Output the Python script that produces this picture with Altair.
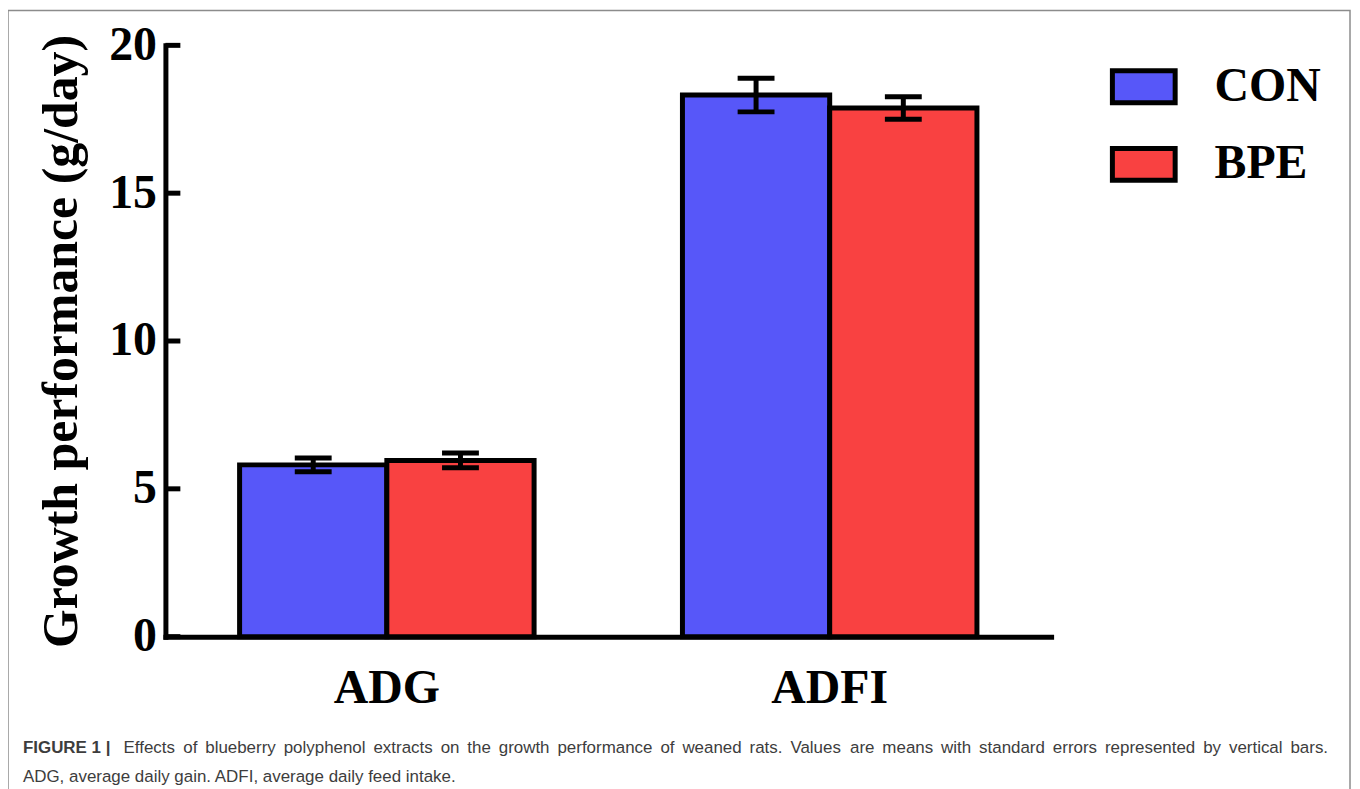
import altair as alt
import pandas as pd

# ---- data ----
groups = ["ADG", "ADG", "ADFI", "ADFI"]
treatments = ["CON", "BPE", "CON", "BPE"]
means = [5.81, 5.96, 18.32, 17.88]
sems = [0.23, 0.25, 0.57, 0.38]
group_order = ["ADG", "ADFI"]
treat_order = ["CON", "BPE"]
colors = ["#5757F9", "#F94141"]
y_ticks = [0, 5, 10, 15, 20]
y_title = "Growth performance (g/day)"
caption_bold = ["FIGURE 1 |"]
caption_line1 = "Effects of blueberry polyphenol extracts on the growth performance of weaned rats. Values are means with standard errors represented by vertical bars."
caption_line2 = ["ADG, average daily gain. ADFI, average daily feed intake."]

df = pd.DataFrame({"group": groups, "treat": treatments, "mean": means, "sem": sems})
df["lo"] = df["mean"] - df["sem"]
df["hi"] = df["mean"] + df["sem"]
ticks_df = pd.DataFrame({"v": y_ticks})

# ---- layout ----
W, H = 1347, 800
AX_X = 158
Y0, Y20 = 628.5, 35
X_END = 1047
serif = "Liberation Serif"
sans = "Liberation Sans"

xscale = alt.Scale(domain=group_order, range=[AX_X, X_END], paddingInner=0.335, paddingOuter=0.1675)
yscale = alt.Scale(domain=[0, 20], range=[Y0, Y20], nice=False, zero=True)

xaxis = alt.Axis(title=None, orient="bottom", offset=Y0 - H, domainColor="black", domainWidth=5,
                 domainCap="square", ticks=False, tickSize=0, labelFont=serif, labelFontWeight="bold",
                 labelFontSize=48, labelColor="black", labelPadding=28, labelAngle=0)
yaxis = alt.Axis(title=y_title, orient="left", offset=-AX_X, values=y_ticks, domainColor="black",
                 domainWidth=5, domainCap="square", ticks=False, tickSize=0, grid=False,
                 labelFont=serif, labelFontWeight="bold", labelFontSize=48, labelColor="black",
                 labelPadding=9, titleFont=serif, titleFontWeight="bold", titleFontSize=50,
                 titleColor="black", titlePadding=22)

X = alt.X("group:N", scale=xscale, sort=group_order, axis=xaxis)
XO = alt.XOffset("treat:N", sort=treat_order, scale=alt.Scale(domain=treat_order, paddingInner=0, paddingOuter=0))

legend = alt.Legend(title=None, orient="none", legendX=1106, legendY=42.5, padding=0,
                    symbolType="M-1,-0.508L1,-0.508L1,0.508L-1,0.508Z", symbolSize=3969,
                    symbolStrokeWidth=5, symbolStrokeColor="black", symbolOpacity=1,
                    labelFont=serif, labelFontWeight="bold", labelFontSize=48, labelColor="black",
                    labelOffset=37, rowPadding=17, labelLimit=400)

base = alt.Chart(df)

bars = base.mark_bar(stroke="black", strokeWidth=5, opacity=1).encode(
    x=X, xOffset=XO,
    y=alt.Y("mean:Q", scale=yscale, axis=yaxis),
    color=alt.Color("treat:N", scale=alt.Scale(domain=treat_order, range=colors), legend=legend),
)

stems = base.mark_rule(color="black", strokeWidth=5).encode(
    x=X, xOffset=XO,
    y=alt.Y("lo:Q", scale=yscale, axis=yaxis), y2="hi:Q",
)
cap_lo = base.mark_tick(color="black", size=37, thickness=5, opacity=1).encode(
    x=X, xOffset=XO, y=alt.Y("lo:Q", scale=yscale, axis=yaxis),
)
cap_hi = base.mark_tick(color="black", size=37, thickness=5, opacity=1).encode(
    x=X, xOffset=XO, y=alt.Y("hi:Q", scale=yscale, axis=yaxis),
)

yticks = alt.Chart(ticks_df).mark_rule(color="black", strokeWidth=5).encode(
    y=alt.Y("v:Q", scale=yscale, axis=yaxis),
    x=alt.value(AX_X), x2=alt.value(AX_X + 15),
)

# ---- caption (first line justified like the journal layout) ----
ARIAL = {"a": 556, "b": 556, "c": 500, "d": 556, "e": 556, "f": 278, "g": 556, "h": 556, "i": 222,
         "j": 222, "k": 500, "l": 222, "m": 833, "n": 556, "o": 556, "p": 556, "q": 556, "r": 333,
         "s": 500, "t": 278, "u": 556, "v": 500, "w": 722, "x": 500, "y": 500, "z": 500, ".": 278,
         ",": 278, " ": 278, "E": 667, "V": 667, "A": 667, "D": 722, "F": 611, "G": 778, "I": 278}
CAP_SIZE = 17


def text_w(s, size):
    return sum(ARIAL.get(ch, 556) for ch in s) * size / 1000.0


words = caption_line1.split(" ")
line_start, line_end = 116, 1325
natural = sum(text_w(w, CAP_SIZE) for w in words)
gap = (line_end - line_start - natural) / (len(words) - 1)
xs, cur = [], line_start
for w in words:
    xs.append(cur)
    cur += text_w(w, CAP_SIZE) + gap
words_df = pd.DataFrame({"w": words, "x": xs})

cap_color = "#3d3d3d"
cap_b = alt.Chart(pd.DataFrame({"t": caption_bold})).mark_text(
    font=sans, fontWeight="bold", fontSize=17, color=cap_color, align="left", baseline="alphabetic"
).encode(text="t:N", x=alt.value(15), y=alt.value(745.5))
cap_1 = alt.Chart(words_df).mark_text(
    font=sans, fontSize=CAP_SIZE, color=cap_color, align="left", baseline="alphabetic"
).encode(text="w:N", x=alt.X("x:Q", scale=None), y=alt.value(745.5))
cap_2 = alt.Chart(pd.DataFrame({"t": caption_line2})).mark_text(
    font=sans, fontSize=CAP_SIZE, color=cap_color, align="left", baseline="alphabetic"
).encode(text="t:N", x=alt.value(15), y=alt.value(774))

chart = alt.layer(bars, stems, cap_lo, cap_hi, yticks, cap_b, cap_1, cap_2).properties(
    width=W, height=H,
    autosize=alt.AutoSizeParams(type="none"),
    padding={"left": 0, "top": 1, "right": 2, "bottom": 0},
    background="white",
).configure_view(stroke="#8c8c8c", strokeWidth=1.5, fill="white")

chart.save("out.html", embed_options={"renderer": "svg", "actions": False})
